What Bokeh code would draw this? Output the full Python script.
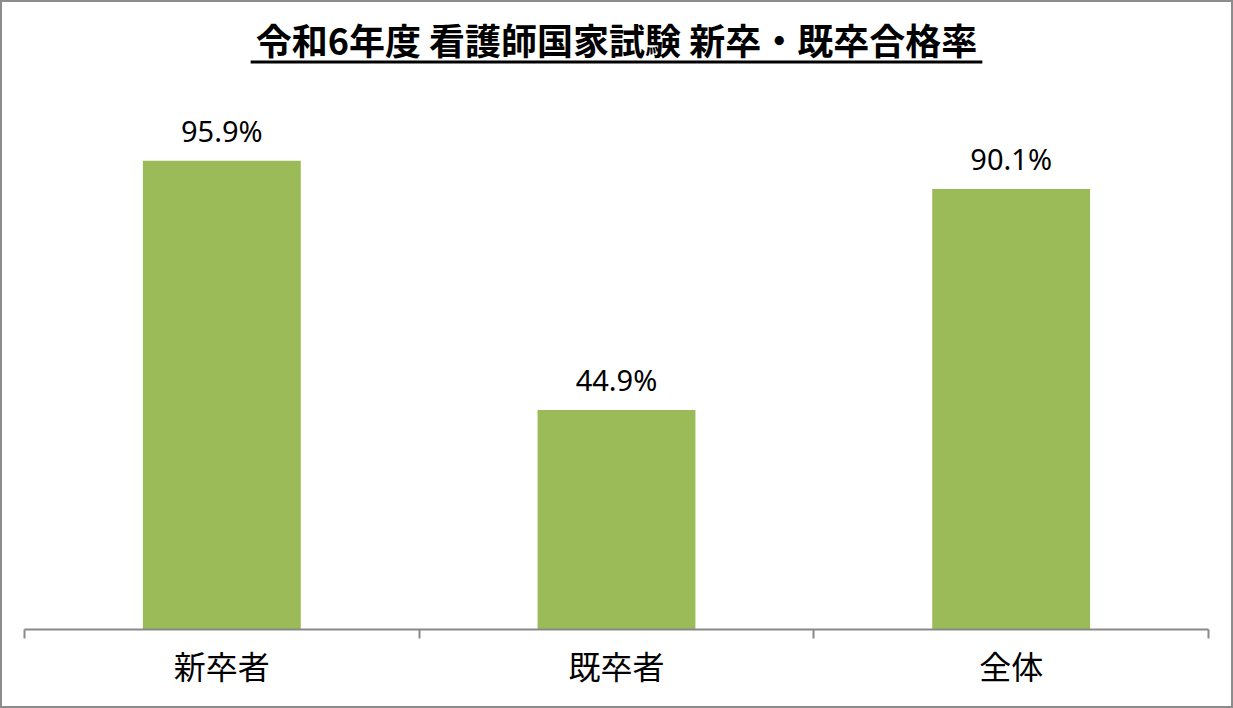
from bokeh.plotting import figure
from bokeh.models import (ColumnDataSource, LabelSet, Label, BoxAnnotation, LinearAxis,
                          FixedTicker, Range1d)
from bokeh.core.properties import value
from bokeh.embed import file_html
from bokeh.resources import INLINE

title_text = "令和6年度 看護師国家試験 新卒・既卒合格率"
categories = ["新卒者", "既卒者", "全体"]
rates = [95.9, 44.9, 90.1]
rate_labels = ["95.9%", "44.9%", "90.1%"]

BAR = "#9BBB59"
AXIS = "#898989"
CJK = "Noto Sans CJK JP"

xs = [i + 0.5 for i in range(len(categories))]
src = ColumnDataSource(dict(x=xs, top=rates, lab=rate_labels, cat=categories))

p = figure(frame_width=1184, frame_height=611,
           min_border_left=22, min_border_right=23,
           min_border_top=16, min_border_bottom=77,
           x_range=Range1d(0, len(categories)), y_range=Range1d(0, 125),
           x_axis_location=None, y_axis_location=None,
           toolbar_location=None, output_backend="svg")
p.outline_line_color = None
p.xgrid.grid_line_color = None
p.ygrid.grid_line_color = None
p.background_fill_color = "white"
p.border_fill_color = "white"
p.styles = {"border": "2px solid #8c8c8c"}

p.vbar(x="x", top="top", width=0.4, bottom=0, source=src,
       fill_color=BAR, line_color=None)

ax = LinearAxis(ticker=FixedTicker(ticks=xs, minor_ticks=list(range(len(categories) + 1))))
ax.major_label_overrides = {x: c for x, c in zip(xs, categories)}
ax.axis_line_color = AXIS
ax.axis_line_width = 2
ax.major_tick_line_color = None
ax.major_tick_out = 0
ax.major_tick_in = 0
ax.minor_tick_line_color = AXIS
ax.minor_tick_line_width = 2
ax.minor_tick_out = 9
ax.minor_tick_in = 0
ax.major_label_standoff = 3
ax.major_label_text_font = CJK
ax.major_label_text_font_size = "32px"
ax.major_label_text_color = "black"
p.add_layout(ax, "below")

labels = LabelSet(x="x", y="top", text="lab", source=src, y_offset=19,
                  text_align="center", text_baseline="alphabetic",
                  text_font=value("Noto Sans"), text_font_size=value("29px"),
                  text_color="black")
p.add_layout(labels)

title = Label(x=len(categories) / 2, y=120.9, text=title_text, text_align="center",
              text_baseline="middle", text_font=CJK, text_font_size="36px",
              text_font_style="bold", text_color="black")
p.add_layout(title)
underline = BoxAnnotation(left=0.573, right=2.427, bottom=115.8, top=116.4,
                          fill_color="black", fill_alpha=1, line_color=None)
p.add_layout(underline)

open("out.html", "w").write(file_html(p, INLINE))
